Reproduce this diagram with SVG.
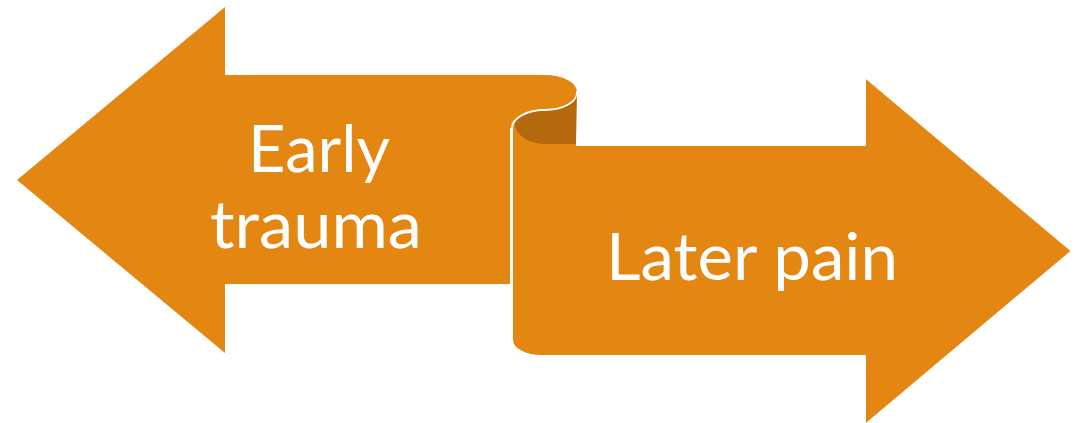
<svg xmlns="http://www.w3.org/2000/svg" width="1074" height="423" viewBox="0 0 1074 423">
  <style>
    .arrow { fill: #E38612; }
    .edge { stroke: #FFFFFF; stroke-width: 2; stroke-linejoin: round; }
    .curl { fill: #B4690F; }
    .label { fill: #FFFFFF; font-family: Lato, "Open Sans", "Liberation Sans", sans-serif; font-size: 65px; text-anchor: middle; }
  </style>
  <rect width="1074" height="423" fill="#FFFFFF"/>
  <g id="node-early-trauma">
    <path class="arrow" d="M17,180 L225,7 L225,75 L545,75 A32,17 0 0 1 577,92 L577,128 L510,128 L510,284 L225,284 L225,353 Z"/>
    <text class="label" x="319" y="172" textLength="142" lengthAdjust="spacingAndGlyphs">Early</text>
    <text class="label" x="316" y="248" textLength="212" lengthAdjust="spacingAndGlyphs">trauma</text>
  </g>
  <g id="node-later-pain">
    <path class="arrow edge" d="M512,128 A33,18 0 0 1 545,110 A32,17 0 0 0 577,92 L577,145 L865,145 L865,77 L1072,251 L865,425 L865,356 L542,356 A30,16 0 0 1 512,340 Z"/>
    <path class="curl" d="M577,93.5 A32,17 0 0 1 545,111 A32,17 0 0 0 514.5,124 Q518,141 542,144 L576,144 Z"/>
    <text class="label" x="752" y="280" textLength="292" lengthAdjust="spacingAndGlyphs">Later pain</text>
  </g>
  <g id="connectors"></g>
</svg>
